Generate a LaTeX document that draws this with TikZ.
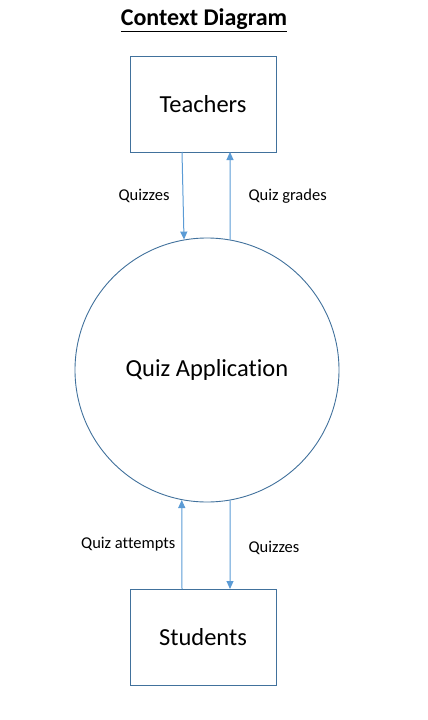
\documentclass[tikz,border=0pt]{standalone}
\usepackage{fontspec}
\setmainfont[Ligatures=NoCommon]{Carlito}
\usetikzlibrary{arrows.meta}
\definecolor{edgeblue}{RGB}{65,113,156}
\definecolor{arrowblue}{RGB}{91,155,213}
\tikzset{
  entity/.style={draw=edgeblue, line width=0.9pt, minimum width=146pt, minimum height=96pt, inner sep=0pt, font=\fontsize{24.5}{28}\selectfont},
  process/.style={draw=edgeblue, line width=0.9pt, circle, minimum size=264pt, inner sep=0pt, font=\fontsize{24.5}{28}\selectfont},
  flow/.style={draw=arrowblue, line width=1pt, -{Triangle[width=7pt,length=8pt]}},
  lbl/.style={font=\fontsize{16.5}{19}\selectfont, inner sep=0pt}
}
\begin{document}
\begin{tikzpicture}[x=1pt,y=-1pt]
\useasboundingbox (0,0) rectangle (428,720);
\node[font=\bfseries\fontsize{24}{28}\selectfont, inner sep=0pt] (title) at (204,20) {\underline{Context Diagram}};
\node[entity] (teachers) at (203,104) {Teachers};
\node[process] (app) at (207,370) {Quiz Application};
\node[entity] (students) at (203,637) {Students};
\coordinate (t1) at (182,152);
\coordinate (t2) at (230,152);
\coordinate (s1) at (182,589);
\coordinate (s2) at (230,589);
\coordinate (a1) at (app.100.9);
\coordinate (a2) at (app.80);
\coordinate (a3) at (app.259.1);
\coordinate (a4) at (app.280);
\draw[flow] (t1) -- (a1) node[lbl, midway, left=13pt] (l1) {Quizzes};
\draw[flow] (a2) -- (t2) node[lbl, midway, right=18pt] (l2) {Quiz grades};
\draw[flow] (s1) -- (a3) node[lbl, midway, left=6pt] (l3) {Quiz attempts};
\draw[flow] (a4) -- (s2) node[lbl, pos=0.54, right=18pt] (l4) {Quizzes};
\end{tikzpicture}
\end{document}
